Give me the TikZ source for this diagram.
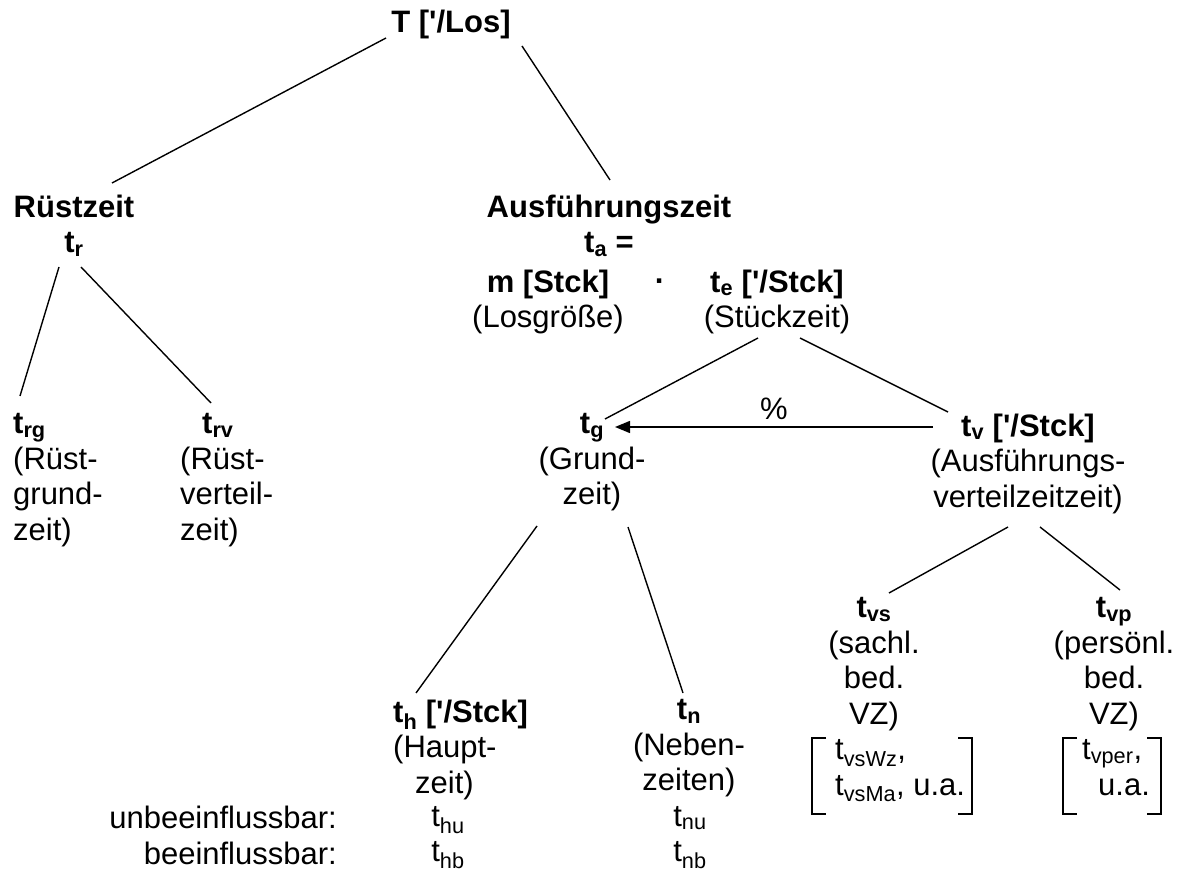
\documentclass[tikz,border=0pt]{standalone}
\usepackage{fontspec}
\setmainfont{Liberation Sans}
\usetikzlibrary{arrows.meta, calc}

\begin{document}
\begin{tikzpicture}[x=1pt, y=-1pt,
  txt/.style={font=\fontsize{31}{35.5}\selectfont, inner sep=0pt, align=center, anchor=north},
  fett/.style={txt, font=\fontsize{31}{35.5}\selectfont\bfseries},
  zweig/.style={line width=1.4pt},
  klammer/.style={line width=1.4pt}]
  \fill[white] (0,0) rectangle (1184,885);
  \useasboundingbox (0,0) rectangle (1184,885);

  % obere Ebenen
  \node[fett] (T) at (451,9.5) {T [\textquotesingle/Los]};
  \node[fett] (ruest) at (74,194.5) {Rüstzeit\\t\textsubscript{r}};
  \node[fett] (ausf) at (609,194.5) {Ausführungszeit\\t\textsubscript{a} =};
  \node[txt] (losgr) at (548,269.5) {\textbf{m [Stck]}\\(Losgröße)};
  \node[fett, anchor=base] (mal) at (660,292) {·};
  \node[txt] (stueck) at (777,269.5) {\textbf{t\textsubscript{e} [\textquotesingle/Stck]}\\(Stückzeit)};

  % Ruestzeit
  \node[txt, anchor=north west, align=left] (trg) at (13,413.5) {\textbf{t\textsubscript{rg}}\\(Rüst-\\grund-\\zeit)};
  \node[txt, anchor=north west, align=left] (trv) at (180,413.5) {\hspace*{22pt}\textbf{t\textsubscript{rv}}\\(Rüst-\\verteil-\\zeit)};

  % Stueckzeit
  \node[txt] (tg) at (592,413.5) {\textbf{t\textsubscript{g}}\\(Grund-\\zeit)};
  \node[txt] (tv) at (1028,413.5) {\textbf{t\textsubscript{v} [\textquotesingle/Stck]}\\(Ausführungs-\\verteilzeitzeit)};
  \node[txt, anchor=north west, align=left] (th) at (393,699.5) {\textbf{t\textsubscript{h} [\textquotesingle/Stck]}\\(Haupt-\\\hspace*{22pt}zeit)};
  \node[txt] (tn) at (689,699.5) {\textbf{t\textsubscript{n}}\\(Neben-\\zeiten)};
  \node[txt] (tvs) at (874,597.5) {\textbf{t\textsubscript{vs}}\\(sachl.\\bed.\\VZ)};
  \node[txt] (tvp) at (1114,597.5) {\textbf{t\textsubscript{vp}}\\(persönl.\\bed.\\VZ)};

  % unten
  \node[txt, anchor=north east, align=right] (einfl) at (337,806) {unbeeinflussbar:\\beeinflussbar:};
  \node[txt] (thu) at (448,806) {t\textsubscript{hu}\\t\textsubscript{hb}};
  \node[txt] (tnu) at (690,806) {t\textsubscript{nu}\\t\textsubscript{nb}};
  \node[txt, anchor=north west, align=left] (vsliste) at (835,739.5) {t\textsubscript{vsWz},\\t\textsubscript{vsMa}, u.a.};
  \node[txt, anchor=north west, align=left] (vpliste) at (1082,739.5) {t\textsubscript{vper},\\\hspace*{16pt}u.a.};

  % Klammern
  \draw[klammer] (826,738) -| (812,814) -- (826,814);
  \draw[klammer] (958,738) -| (972,814) -- (958,814);
  \draw[klammer] (1077,738) -| (1063,814) -- (1077,814);
  \draw[klammer] (1147,738) -| (1161,814) -- (1147,814);

  % Zweige
  \draw[zweig] ($(T.north)+(-65,28.5)$) -- ($(ruest.north)+(38,-11.5)$);
  \draw[zweig] ($(T.north)+(71,36.5)$) -- ($(ausf.north)+(1,-14.5)$);
  \draw[zweig] ($(ruest.north)+(-15,72.5)$) -- ($(trg.north west)+(7,-17.5)$);
  \draw[zweig] ($(ruest.north)+(7,72.5)$) -- ($(trv.north west)+(31,-10.5)$);
  \draw[zweig] ($(stueck.north)+(-19,68.5)$) -- ($(tg.north)+(13,5.5)$);
  \draw[zweig] ($(stueck.north)+(23,68.5)$) -- ($(tv.north)+(-80,-1.5)$);
  \draw[zweig, -{Triangle[length=15pt, width=12pt]}] ($(tv.north)+(-95,13.5)$) -- ($(tg.north)+(23,13.5)$)
    node[midway, above=7pt, inner sep=0pt, font=\fontsize{31}{35.5}\selectfont] (proz) {\%};
  \draw[zweig] ($(tg.north)+(-55,112.5)$) -- ($(th.north west)+(23,-6.5)$);
  \draw[zweig] ($(tg.north)+(36,113.5)$) -- ($(tn.north)+(-6,-6.5)$);
  \draw[zweig] ($(tv.north)+(-20,113.5)$) -- ($(tvs.north)+(15,-4.5)$);
  \draw[zweig] ($(tv.north)+(12,113.5)$) -- ($(tvp.north)+(6,-7.5)$);
\end{tikzpicture}
\end{document}
